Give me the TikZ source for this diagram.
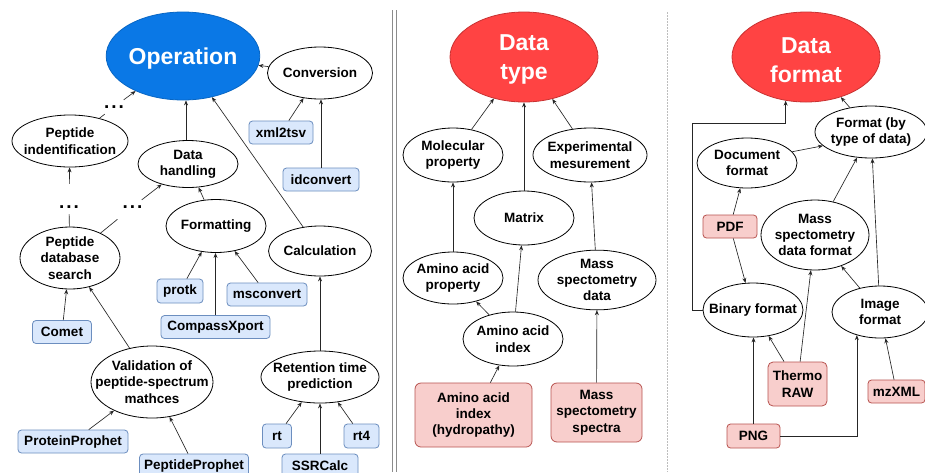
\documentclass[tikz,border=0pt]{standalone}
\usepackage{fontspec}
\setmainfont{Liberation Sans}
\usetikzlibrary{shapes.geometric,arrows.meta}

\definecolor{opblue}{HTML}{0A78E6}
\definecolor{opbluedark}{HTML}{0866C4}
\definecolor{catred}{HTML}{FF4343}
\definecolor{catreddark}{HTML}{C83232}
\definecolor{toolfill}{HTML}{DAE8FC}
\definecolor{tooldraw}{HTML}{6C8EBF}
\definecolor{filefill}{HTML}{F8CECC}
\definecolor{filedraw}{HTML}{B85450}
\definecolor{wire}{HTML}{262626}
\definecolor{sepgray}{HTML}{8C8C8C}
\definecolor{sepgraylight}{HTML}{BDBDBD}

\newcommand\lblfont{\fontsize{13.5}{16.4}\selectfont\bfseries}
\newcommand\catfont{\fontsize{23}{29}\selectfont\bfseries}
\newcommand\gapfont{\fontsize{19}{19}\selectfont\bfseries}
% zero-width centred line, so the ellipse size comes from the style alone
\newcommand\ctrline[1]{\makebox[0pt][c]{#1}}
% taller first line: sets the big labels a little lower in their ellipse
\newcommand\catstrut{\rule{0pt}{21.5pt}}
\newcommand\ellipsis{.\hspace{1.9pt}.\hspace{1.9pt}.}

\tikzset{
  wh/.style 2 args={minimum width=#1pt, minimum height=#2pt},
  concept/.style={ellipse, draw=black, line width=0.8pt, fill=white,
    inner sep=0pt, align=center, font=\lblfont},
  category/.style={ellipse, line width=0.8pt, inner sep=0pt, align=center,
    text=white, font=\catfont},
  toolbox/.style={rectangle, rounded corners=3.5pt, draw=tooldraw, fill=toolfill,
    line width=0.8pt, inner sep=0pt, align=center, font=\lblfont},
  filebox/.style={toolbox, draw=filedraw, fill=filefill},
  gap/.style={inner sep=0pt, minimum width=24pt, minimum height=14pt, font=\gapfont},
  arr/.style={draw=wire, line width=0.65pt, -{Stealth[length=5pt,width=4pt]}},
  link/.style={draw=wire, line width=0.65pt},
}

\begin{document}
\begin{tikzpicture}[x=1pt, y=-1pt]
\useasboundingbox (0,0) rectangle (925,472);
\fill[white] (0,0) rectangle (925,472);

% ---------- panel separators ----------
\draw[sepgray, line width=0.9pt] (392,10) -- (392,472);
\draw[sepgray, line width=0.9pt] (396,10) -- (396,472);
\draw[sepgraylight, line width=0.7pt, dash pattern=on 1.5pt off 1.5pt] (667,12) -- (667,472);

% ================= Operation =================
\node[category, fill=opblue, draw=opbluedark, wh={148}{88}] (op) at (183,56) {\catstrut Operation};
\node[concept, wh={100}{52}] (conv) at (320,73) {Conversion};
\node[toolbox, wh={64}{23}] (xml2tsv) at (281,132.5) {xml2tsv};
\node[toolbox, wh={76}{23}] (idconvert) at (321,179.5) {idconvert};
\node[concept, wh={116}{52}] (pepident) at (70,141) {\ctrline{Peptide}\\\ctrline{indentification}};
\node[gap] (dotsA) at (114,107) {\ellipsis};
\node[concept, wh={100}{47}] (handling) at (188,164) {\ctrline{Data}\\\ctrline{handling}};
\node[gap] (dotsB) at (69,207) {\ellipsis};
\node[gap] (dotsC) at (132.5,207) {\ellipsis};
\node[concept, wh={100}{53}] (formatting) at (216,226) {Formatting};
\node[concept, wh={100}{50}] (calc) at (320,251) {Calculation};
\node[concept, wh={100}{62}] (pdbsearch) at (70,258) {\ctrline{Peptide}\\\ctrline{database}\\\ctrline{search}};
\node[toolbox, wh={59}{23}] (comet) at (62,332) {Comet};
\node[concept, wh={122}{72}] (validation) at (152,382) {\ctrline{Validation of}\\\ctrline{peptide-spectrum}\\\ctrline{mathces}};
\node[toolbox, wh={110}{23}] (protproph) at (73,441.5) {ProteinProphet};
\node[toolbox, wh={109}{23}] (pepproph) at (194,465.5) {PeptideProphet};
\node[toolbox, wh={46}{24}] (protk) at (180,291) {protk};
\node[toolbox, wh={109}{23}] (compass) at (215.5,327) {CompassXport};
\node[toolbox, wh={80}{23}] (msconvert) at (267,294.5) {msconvert};
\node[concept, wh={118}{52}] (rtpred) at (320,377) {\ctrline{Retention time}\\\ctrline{prediction}};
\node[toolbox, wh={29}{24}] (rt) at (277,436) {rt};
\node[toolbox, wh={76}{23}] (ssrcalc) at (320,465.5) {SSRCalc};
\node[toolbox, wh={35}{24}] (rtfour) at (361.5,436) {rt4};
\coordinate (handlingx) at (186,0);

\draw[arr] (conv) -- (op);
\draw[arr] (xml2tsv) -- (conv);
\draw[arr] (idconvert.north) -- (idconvert.north |- conv.south);
\draw[link] (pepident) -- (dotsA);
\draw[arr] (dotsA) -- (op);
\draw[arr] (handling.north -| handlingx) -- (op.south -| handlingx);
\draw[arr, shorten <=16pt] (dotsB) -- (pepident);
\draw[link] (pdbsearch) -- (dotsB);
\draw[link, shorten >=8pt] (pdbsearch) -- (dotsC);
\draw[arr] (dotsC) -- (handling);
\draw[arr] (formatting) -- (handling);
\draw[arr] (calc) -- (op);
\draw[arr] (comet) -- (pdbsearch);
\draw[arr] (validation) -- (pdbsearch);
\draw[arr] (protproph) -- (validation);
\draw[arr] (pepproph) -- (validation);
\draw[arr] (protk) -- (formatting);
\draw[arr] (compass.north) -- (compass.north |- formatting.south);
\draw[arr] (msconvert) -- (formatting);
\draw[arr] (rtpred) -- (calc);
\draw[arr] (rt) -- (rtpred);
\draw[arr] (ssrcalc) -- (rtpred);
\draw[arr] (rtfour) -- (rtpred);

% ================= Data type =================
\node[category, fill=catred, draw=catreddark, wh={148}{90}] (dtype) at (524,57) {\catstrut Data\\type};
\node[concept, wh={100}{54}] (molprop) at (453,155) {\ctrline{Molecular}\\\ctrline{property}};
\node[concept, wh={114}{54}] (expmes) at (590,155) {\ctrline{Experimental}\\\ctrline{mesurement}};
\node[concept, wh={100}{54}] (matrix) at (524,218) {Matrix};
\node[concept, wh={100}{52}] (aaprop) at (453,278) {\ctrline{Amino acid}\\\ctrline{property}};
\node[concept, wh={118}{54}] (msdata) at (597,280) {\ctrline{Mass}\\\ctrline{spectometry}\\\ctrline{data}};
\node[concept, wh={100}{54}] (aaindex) at (513,339) {\ctrline{Amino acid}\\\ctrline{index}};
\node[filebox, wh={117}{64}, rounded corners=6pt] (hydro) at (473.5,415) {Amino acid\\index\\(hydropathy)};
\node[filebox, wh={91}{59}, rounded corners=6pt] (spectra) at (596.5,412.5) {Mass\\spectometry\\spectra};

\draw[arr] (molprop) -- (dtype);
\draw[arr] (matrix) -- (dtype);
\draw[arr] (expmes) -- (dtype);
\draw[arr] (aaprop) -- (molprop);
\draw[arr] (aaindex) -- (aaprop);
\draw[arr] (aaindex) -- (matrix);
\draw[arr] (msdata) -- (expmes);
\draw[arr] (hydro) -- (aaindex);
\draw[arr] (spectra) -- (msdata);

% ================= Data format =================
\node[category, fill=catred, draw=catreddark, wh={148}{90}] (dformat) at (806,57) {\catstrut Data\\format};
\node[concept, wh={112}{52}] (bytype) at (871,132) {\ctrline{Format (by}\\\ctrline{type of data)}};
\node[concept, wh={100}{50}] (docfmt) at (747,163) {\ctrline{Document}\\\ctrline{format}};
\node[concept, wh={108}{70}] (msfmt) at (815,235) {\ctrline{Mass}\\\ctrline{spectometry}\\\ctrline{data format}};
\node[filebox, wh={54}{23}] (pdf) at (730,226.5) {PDF};
\node[concept, wh={100}{54}] (binary) at (753,310) {\ctrline{Binary format}};
\node[concept, wh={96}{52}] (image) at (880,312) {\ctrline{Image}\\\ctrline{format}};
\node[filebox, wh={59}{44}, rounded corners=5pt] (thermo) at (797.5,384) {Thermo\\RAW};
\node[filebox, wh={57}{23}] (mzxml) at (896.5,391.5) {mzXML};
\node[filebox, wh={53}{24}] (png) at (753.5,436) {PNG};
\coordinate (binbend) at (692,123);

\draw[arr] (binary.west) -| (binbend) -| (dformat.245);
\draw[arr] (bytype) -- (dformat);
\draw[arr] (docfmt.14) -- (bytype.196);
\draw[arr] (pdf) -- (docfmt);
\draw[arr] (pdf) -- (binary);
\draw[arr] (msfmt) -- (bytype);
\draw[arr] (image) -- (bytype);
\draw[arr] (image) -- (msfmt);
\draw[arr] (thermo) -- (binary);
\draw[arr] (thermo) -- (msfmt);
\draw[arr] (png.north) -- (png.north |- binary.south);
\draw[arr] (png.east) -| (image.225);
\draw[arr] (mzxml) -- (image);
\end{tikzpicture}
\end{document}
